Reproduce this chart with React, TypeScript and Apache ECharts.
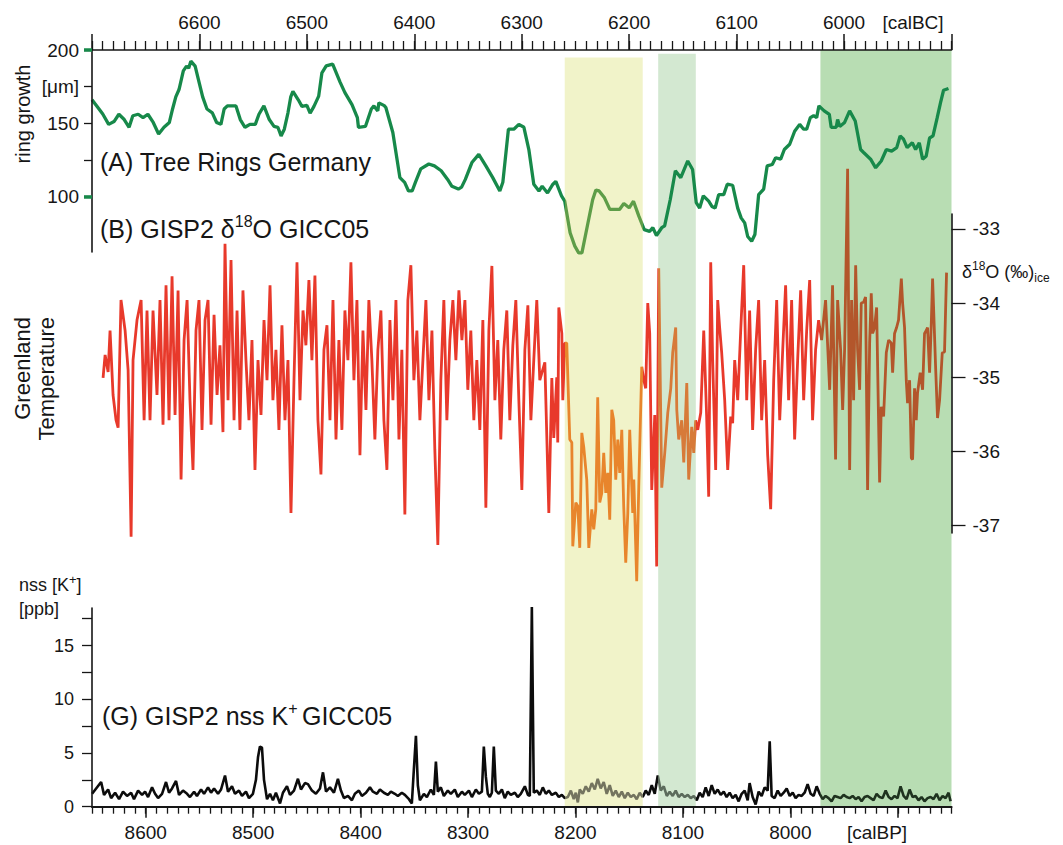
import React, { useEffect, useRef } from 'react';
import * as echarts from 'echarts';

// ---------- data (calBP year, value) ----------
const treeRing: [number, number][] = [
  [8650,166],[8644,160.2],[8640,156.3],[8634.5,149.2],[8629.5,151.1],[8625,156.1],[8620,152.5],[8615.5,147.2],[8612,155.1],[8607,156.1],
  [8602.5,153.8],[8598,156.1],[8593,150.5],[8588,142.6],[8583,147.2],[8578,150.5],[8575,159.7],[8572,168],[8569,173],[8565,185.7],
  [8562,189],[8560,187.6],[8558,192.4],[8554,189],[8551,179.9],[8547,168],[8543,159.7],[8538,157.1],[8534,150.5],[8530,149.2],
  [8527,159.7],[8524,161.8],[8516,161.8],[8512,152.5],[8507.6,147.2],[8503,149.2],[8498,149.2],[8494.6,156.1],[8490,161.8],[8485,152.5],
  [8480.6,147.8],[8477,147.2],[8474,141.3],[8471,145.9],[8467.6,157.1],[8465,168],[8463,171.8],[8458,166],[8454.6,161.5],[8450,162.2],
  [8447,156.8],[8443.4,161.5],[8439,168.5],[8436,184.4],[8432,189.1],[8426,190.4],[8419,177.9],[8414.6,170.9],[8408,162.7],[8403,153.8],
  [8402,147.2],[8395.5,147.8],[8390,159.7],[8387.6,161.8],[8384,158.4],[8383,163.9],[8378,162],[8376.5,160.7],[8370,143.6],[8363.4,112.8],
  [8359,109.6],[8355.4,103.7],[8352,103.7],[8349,109.6],[8344,118.8],[8336.5,122.1],[8331.3,120.8],[8325,117.5],[8319,111.6],[8315,106.9],
  [8309,105],[8306,106.3],[8302.5,111.6],[8296.4,123.1],[8290,128.7],[8283.4,120.8],[8277,112.8],[8270.4,103.7],[8267.6,109.6],[8262.4,145.9],
  [8257.4,145.9],[8252.7,149.2],[8248,147.2],[8243.4,132],[8238.8,108.3],[8234,103.7],[8231,106.9],[8226,102.3],[8221,108.3],[8218.3,110.2],
  [8213,100.4],[8210,96.7],[8205,75.2],[8200.6,66],[8197,61.4],[8194,61.4],[8189,79.6],[8184,97.7],[8181,104.3],[8178,103.7],
  [8173,99],[8168,91.1],[8159,91.1],[8155,95.1],[8150,92.2],[8146,96.7],[8141,86.5],[8136,77.3],[8131,76.1],[8128,78.6],
  [8124.6,73.3],[8119.7,78.6],[8117,79.9],[8111.8,97.7],[8107,117.5],[8102,112.8],[8095.5,124.2],[8091,118.4],[8087.6,95.7],[8084.4,92],
  [8081,100.4],[8076,96.7],[8073,93.1],[8070,92],[8066.7,101.2],[8062,101.2],[8058.7,108.3],[8053.7,107.6],[8049,92],[8045.8,85.3],
  [8042.5,81.9],[8039.7,72.6],[8036,69.3],[8033,73.9],[8029.5,101.2],[8024.8,105],[8021.6,120.8],[8016.8,121.8],[8013.7,126.4],[8009,125.4],
  [8005.6,132],[8000.6,135.6],[7996,144.5],[7991.3,149.2],[7987.6,145.9],[7984.8,145.9],[7981.4,153.8],[7978.3,155.1],[7975.5,153.8],[7973.4,161.8],
  [7968.5,158.4],[7963.7,156],[7962,147.2],[7957.3,147.2],[7956,152.5],[7954,147.8],[7949.5,150.5],[7944.8,158.4],[7939.6,151.5],[7934.6,132],
  [7931.8,130],[7925.3,125.4],[7920.6,119.5],[7915.4,124.2],[7910.6,132],[7905.7,130.9],[7901,133.3],[7897.8,141.3],[7894.6,139],[7891.3,133.3],
  [7886.5,136.6],[7883.4,132],[7880,136.6],[7876.9,125.4],[7873.6,127.4],[7870.4,139.9],[7867.2,141.3],[7863.3,153.8],[7860.2,164.1],[7857.4,172.5],
  [7852.8,173.7]
];

const d18o: [number, number][] = [
  [8639.7,-35.01],[8637.8,-34.70],[8635.0,-34.93],[8633.2,-34.37],[8630.4,-35.24],[8627.6,-35.58],[8625.7,-35.68],[8623.0,-33.96],[8619.2,-34.37],[8616.4,-34.90],
  [8613.6,-37.15],[8611.8,-34.77],[8608.1,-34.23],[8604.3,-33.96],[8601.5,-35.58],[8598.8,-34.10],[8596.0,-35.58],[8593.2,-34.10],[8589.5,-35.24],[8586.7,-33.96],
  [8583.9,-35.64],[8581.1,-33.76],[8578.3,-35.58],[8575.5,-33.64],[8572.7,-35.51],[8569.9,-33.83],[8567.1,-36.38],[8564.3,-34.50],[8561.5,-33.96],[8558.8,-35.31],
  [8556.0,-36.25],[8553.2,-34.37],[8550.4,-33.96],[8547.6,-35.71],[8544.8,-34.23],[8542.0,-33.96],[8539.2,-35.64],[8536.4,-34.16],[8533.6,-35.24],[8530.9,-34.57],
  [8528.1,-35.74],[8526.2,-33.20],[8523.4,-35.31],[8520.6,-33.42],[8517.8,-35.58],[8515.0,-34.10],[8512.3,-35.71],[8509.5,-33.83],[8506.7,-34.77],[8503.9,-35.58],
  [8501.1,-34.50],[8498.3,-36.25],[8495.5,-34.77],[8492.7,-35.51],[8489.9,-34.23],[8487.1,-35.04],[8484.3,-33.76],[8481.6,-35.31],[8478.8,-34.63],[8476.0,-35.71],
  [8473.2,-34.30],[8470.4,-35.58],[8467.6,-34.77],[8464.8,-36.83],[8462.0,-35.04],[8459.2,-33.45],[8456.4,-35.31],[8453.6,-34.10],[8450.9,-34.57],[8448.1,-33.69],
  [8445.3,-34.77],[8442.5,-33.63],[8439.7,-35.58],[8436.9,-36.31],[8434.1,-34.63],[8431.3,-34.30],[8428.5,-35.58],[8425.7,-33.96],[8422.9,-35.84],[8420.2,-34.50],
  [8417.4,-35.71],[8414.6,-34.10],[8411.8,-34.77],[8409.0,-33.45],[8406.2,-35.04],[8403.4,-33.96],[8400.6,-36.05],[8397.8,-34.37],[8395.0,-35.44],[8392.3,-33.96],
  [8389.5,-34.77],[8386.7,-35.84],[8383.9,-34.63],[8381.1,-34.10],[8378.3,-35.58],[8375.5,-36.25],[8372.7,-34.23],[8369.9,-35.31],[8367.1,-33.96],[8364.3,-35.84],
  [8361.6,-34.63],[8358.8,-36.85],[8356.0,-33.96],[8353.2,-33.49],[8350.4,-35.04],[8347.6,-34.37],[8344.8,-35.58],[8342.0,-34.77],[8339.2,-33.96],[8336.4,-35.31],
  [8333.6,-34.37],[8330.9,-35.98],[8328.1,-37.26],[8325.3,-35.04],[8322.5,-33.96],[8319.7,-35.58],[8316.9,-34.50],[8314.1,-33.96],[8311.3,-34.77],[8308.5,-33.83],
  [8305.7,-34.50],[8302.9,-33.96],[8300.2,-35.17],[8297.4,-34.37],[8294.6,-35.58],[8291.8,-34.77],[8289.0,-35.71],[8286.2,-34.23],[8283.4,-36.76],[8280.6,-34.37],
  [8277.8,-33.50],[8275.0,-35.31],[8272.3,-34.50],[8269.5,-35.84],[8266.7,-34.63],[8263.9,-34.10],[8261.1,-35.58],[8258.3,-34.57],[8255.5,-33.96],[8252.7,-35.31],
  [8249.9,-36.52],[8247.1,-34.63],[8244.3,-34.03],[8241.5,-35.58],[8238.8,-34.77],[8236.0,-33.96],[8233.2,-35.04],[8228.5,-34.80],[8224.8,-36.83],[8222.0,-35.01],
  [8220.2,-35.82],[8217.4,-35.00],[8216.5,-35.88],[8215.5,-34.06],[8212.7,-34.41],[8211.8,-35.31],[8209.9,-34.54],[8208.1,-34.54],[8205.3,-35.84],[8203.4,-35.88],
  [8202.5,-37.28],[8199.7,-36.69],[8197.8,-36.74],[8196.0,-37.30],[8194.1,-35.75],[8192.3,-35.94],[8189.5,-36.38],[8187.6,-37.30],[8184.8,-36.78],[8183.0,-37.05],
  [8181.1,-36.78],[8179.3,-35.27],[8177.4,-36.69],[8175.5,-36.56],[8173.7,-36.02],[8171.8,-36.56],[8169.9,-36.29],[8168.1,-36.92],[8166.2,-35.44],[8164.4,-35.58],
  [8162.5,-36.38],[8160.6,-35.84],[8158.8,-36.29],[8156.9,-35.71],[8155.1,-36.74],[8153.2,-37.50],[8151.3,-36.83],[8149.5,-35.71],[8146.7,-36.83],[8145.7,-36.38],
  [8143.0,-37.75],[8141.1,-36.48],[8138.3,-34.86],[8136.4,-35.04],[8134.6,-35.15],[8132.7,-34.00],[8130.9,-34.41],[8129.0,-36.52],[8126.2,-35.51],[8124.4,-37.55],
  [8122.5,-33.53],[8119.7,-36.49],[8116.9,-36.02],[8114.1,-35.48],[8111.3,-35.15],[8109.5,-34.67],[8106.7,-34.33],[8105.7,-35.44],[8103.9,-35.84],[8101.1,-35.58],
  [8099.2,-36.15],[8096.4,-35.08],[8094.6,-36.38],[8091.8,-35.67],[8089.9,-36.02],[8088.1,-35.58],[8086.2,-35.71],[8083.4,-35.48],[8080.6,-34.37],[8077.9,-35.53],
  [8076.0,-36.61],[8074.1,-33.45],[8072.3,-34.77],[8069.5,-36.25],[8067.6,-33.96],[8065.8,-34.33],[8063.9,-34.67],[8061.1,-35.31],[8058.3,-36.25],[8055.5,-35.53],
  [8053.7,-35.62],[8051.8,-34.77],[8049.0,-35.31],[8046.2,-34.37],[8043.4,-33.49],[8040.6,-35.31],[8037.9,-34.10],[8035.1,-35.71],[8032.3,-34.63],[8029.5,-33.96],
  [8026.7,-35.58],[8023.9,-34.77],[8021.1,-36.05],[8018.3,-36.78],[8015.5,-35.04],[8012.7,-33.96],[8009.9,-35.58],[8007.1,-34.63],[8004.4,-33.76],[8001.6,-35.31],
  [7998.8,-33.96],[7996.0,-35.84],[7993.2,-34.77],[7990.4,-33.83],[7987.6,-35.31],[7984.8,-34.37],[7982.0,-33.69],[7979.3,-35.58],[7976.5,-34.63],[7973.7,-34.23],
  [7970.9,-34.50],[7967.2,-33.96],[7963.4,-35.17],[7960.7,-33.76],[7957.9,-36.11],[7956.0,-33.96],[7953.2,-34.63],[7951.3,-35.44],[7949.5,-34.63],[7946.7,-32.19],
  [7944.8,-36.25],[7943.0,-33.96],[7941.1,-35.31],[7939.2,-33.49],[7937.4,-34.63],[7935.5,-35.17],[7934.0,-34.00],[7931.8,-33.99],[7930.0,-33.92],[7928.1,-36.52],
  [7926.2,-34.54],[7924.7,-33.87],[7923.4,-34.41],[7921.6,-34.33],[7919.7,-34.06],[7916.9,-36.42],[7915.4,-35.40],[7913.2,-35.53],[7910.7,-34.67],[7908.5,-34.50],
  [7906.0,-34.54],[7904.8,-34.94],[7903.0,-34.41],[7901.1,-34.33],[7899.3,-34.23],[7896.7,-33.67],[7895.5,-34.00],[7893.7,-34.33],[7892.1,-35.04],[7890.9,-35.35],
  [7889.0,-35.04],[7887.4,-36.09],[7886.2,-36.11],[7884.4,-35.15],[7882.8,-35.58],[7881.6,-35.21],[7879.1,-34.94],[7876.9,-35.17],[7875.1,-34.41],[7873.5,-34.37],
  [7872.3,-34.33],[7870.4,-34.94],[7868.8,-34.27],[7867.6,-33.67],[7864.8,-34.86],[7863.0,-35.55],[7861.1,-35.31],[7858.6,-34.67],[7856.5,-34.66],[7854.6,-33.59]
];

const nssK: [number, number][] = [
  [8649.9,1.2],[8641.5,2.3],[8638.8,1.1],[8635.0,1.6],[8632.2,0.8],[8628.5,1.3],[8624.8,0.7],[8621.1,1.4],[8617.4,1.0],[8613.6,1.3],
  [8610.9,0.7],[8607.1,1.5],[8603.4,1.1],[8600.6,1.4],[8597.8,0.9],[8594.1,1.8],[8591.3,1.2],[8588.5,0.8],[8584.8,1.2],[8581.1,2.3],
  [8578.3,1.3],[8575.5,1.7],[8571.8,2.4],[8569.0,1.1],[8565.3,1.5],[8561.5,1.2],[8558.8,0.9],[8555.0,1.4],[8552.3,1.0],[8548.5,1.6],
  [8545.7,1.2],[8542.0,1.8],[8539.2,1.3],[8536.4,1.7],[8532.7,1.2],[8529.9,1.6],[8526.2,2.9],[8523.4,1.4],[8519.7,1.9],[8516.9,1.2],
  [8513.2,1.5],[8510.4,1.0],[8506.7,1.4],[8503.9,0.8],[8500.2,1.2],[8497.4,2.5],[8495.5,4.6],[8493.7,5.6],[8491.8,5.5],[8489.9,2.5],
  [8487.1,0.7],[8484.3,1.2],[8481.6,0.6],[8478.8,1.3],[8475.0,0.3],[8472.3,1.3],[8468.5,1.9],[8465.7,1.1],[8462.0,1.5],[8458.3,2.6],
  [8455.5,1.6],[8451.8,2.2],[8449.0,2.1],[8445.3,1.5],[8441.6,1.2],[8437.8,1.7],[8435.0,3.2],[8432.2,1.4],[8428.5,1.8],[8424.8,1.3],
  [8421.1,2.6],[8418.3,1.5],[8415.5,0.8],[8411.8,1.0],[8408.1,0.6],[8405.3,1.2],[8401.6,1.5],[8398.8,1.0],[8395.0,1.3],[8391.3,1.8],
  [8388.5,1.4],[8384.8,1.2],[8382.0,1.6],[8378.3,1.3],[8374.6,1.1],[8371.8,1.4],[8368.1,1.2],[8365.3,1.0],[8361.6,1.3],[8358.8,1.1],
  [8355.0,0.7],[8352.3,0.3],[8350.4,3.5],[8348.5,6.6],[8346.7,2.0],[8344.8,0.6],[8341.1,1.2],[8338.3,0.9],[8334.6,1.6],[8331.8,1.1],
  [8329.9,4.2],[8328.1,1.4],[8325.3,1.8],[8322.5,1.0],[8318.8,1.5],[8316.0,1.2],[8312.3,1.6],[8309.5,0.9],[8305.7,1.4],[8303.0,1.1],
  [8299.2,1.5],[8296.4,0.9],[8292.7,1.6],[8289.9,1.2],[8287.1,1.4],[8285.3,5.6],[8283.4,2.8],[8281.6,1.2],[8279.7,0.9],[8277.8,1.3],
  [8276.0,5.6],[8274.1,1.5],[8271.3,1.2],[8268.5,1.6],[8265.8,0.8],[8263.0,1.4],[8260.2,1.1],[8256.4,1.3],[8253.7,0.9],[8250.9,1.2],
  [8247.1,1.9],[8244.3,1.1],[8242.5,1.0],[8240.6,18.6],[8238.8,1.3],[8236.0,1.5],[8233.2,1.1],[8230.4,1.8],[8227.6,1.2],[8224.8,1.5],
  [8222.0,1.1],[8218.3,1.3],[8215.5,0.9],[8212.7,1.1],[8209.9,0.8],[8207.1,0.9],[8204.3,1.5],[8201.6,0.7],[8199.7,1.3],[8197.8,0.4],
  [8196.0,1.6],[8193.2,1.2],[8190.4,1.9],[8187.6,1.4],[8184.8,2.2],[8182.0,1.6],[8179.3,2.6],[8176.5,1.7],[8173.7,2.3],[8170.9,1.2],
  [8168.1,2.0],[8165.3,1.0],[8162.5,1.5],[8159.7,0.9],[8156.9,1.4],[8154.1,0.8],[8151.3,1.3],[8148.5,0.9],[8145.7,1.1],[8143.0,0.7],
  [8140.2,1.3],[8137.4,0.9],[8134.6,1.5],[8131.8,1.1],[8129.0,2.0],[8126.2,1.2],[8123.4,2.9],[8120.6,1.5],[8117.8,1.9],[8115.0,1.0],
  [8112.3,1.4],[8109.5,1.0],[8106.7,1.5],[8103.9,0.9],[8101.1,1.2],[8098.3,0.9],[8095.5,1.1],[8092.7,0.8],[8089.9,1.0],[8087.1,0.6],
  [8084.4,1.3],[8081.6,0.9],[8078.8,1.8],[8076.0,1.0],[8073.2,2.0],[8070.4,1.2],[8067.6,1.6],[8064.8,1.1],[8062.0,1.4],[8059.3,0.9],
  [8056.5,1.3],[8053.7,0.8],[8050.9,1.1],[8048.1,0.5],[8045.3,1.2],[8042.5,1.5],[8039.7,0.6],[8037.9,2.2],[8035.1,0.9],[8032.3,0.2],
  [8029.5,1.4],[8026.7,1.0],[8023.9,1.8],[8021.1,1.5],[8019.2,6.1],[8017.4,1.0],[8014.6,0.8],[8011.8,1.5],[8009.0,1.0],[8006.2,1.3],
  [8003.4,1.7],[8000.6,1.0],[7997.8,1.3],[7995.1,0.8],[7992.3,1.1],[7989.5,1.0],[7986.7,1.3],[7983.9,2.1],[7981.1,1.2],[7978.3,1.0],
  [7975.5,1.9],[7972.7,1.2],[7969.9,0.7],[7967.2,1.0],[7964.4,0.8],[7961.6,0.5],[7958.8,1.0],[7956.0,0.9],[7953.2,0.8],[7950.4,1.1],
  [7947.6,0.9],[7944.8,0.8],[7942.0,1.0],[7939.2,0.7],[7936.5,0.9],[7933.7,0.5],[7930.9,0.9],[7928.1,1.0],[7925.3,0.8],[7922.5,0.6],
  [7919.7,1.2],[7916.9,0.9],[7914.1,0.8],[7911.3,1.5],[7908.5,0.9],[7905.8,0.7],[7903.0,1.0],[7900.2,0.8],[7897.4,1.9],[7894.6,1.0],
  [7891.8,0.7],[7889.0,1.6],[7886.2,0.9],[7883.4,1.0],[7880.7,0.6],[7877.9,0.9],[7875.1,0.5],[7872.3,0.8],[7869.5,0.9],[7866.7,0.7],
  [7863.9,1.2],[7861.1,0.6],[7858.3,1.0],[7855.5,0.8],[7852.7,1.3],[7850.9,0.5]
];

// shaded periods (calBP)
const bandStart = [8210, 8123, 7972];
const bandEnd = [8137.4, 8088, 7850];

// axis ticks / labels
const topMajorTicks = [5900, 6000, 6100, 6200, 6300, 6400, 6500, 6600, 6700];
const topLabels = [6000, 6100, 6200, 6300, 6400, 6500, 6600];
const bottomMajorTicks = [7900, 8000, 8100, 8200, 8300, 8400, 8500, 8600];
const bottomLabels = [8000, 8100, 8200, 8300, 8400, 8500, 8600];
const treeTicks = [100, 125, 150, 175, 200];
const treeLabels = [100, 150, 175, 200];
const treeGreenTicks = [100, 200];
const d18oTicks = [-37, -36, -35, -34, -33];
const kTicks = [0, 2.5, 5, 7.5, 10, 12.5, 15, 17.5];
const kLabels = [0, 5, 10, 15];

// ---------- styles ----------
const FONT = '"Liberation Sans", Arial, Helvetica, sans-serif';
const INK = '#161616';
const bandColors = ['#f1f3c9', '#d3e8d1', '#b8ddb3'];
const bandTop = [0.99, 0.995, 1];
const treeColor = '#17894a';
const treeBandColors = ['#5e9d48', treeColor, treeColor];
const redColor = '#e8392b';
const redBandColors = ['#e8852c', '#d77a39', '#b3562b'];
const kColor = '#0c0c0c';
const kBandColors = ['#74745f', '#5c6b5c', '#1f331f'];

const plain = (v: number) => String(v);

export default function App() {
  const ref = useRef<HTMLDivElement>(null);

  useEffect(() => {
    if (!ref.current) return;
    const chart = echarts.init(ref.current, null, { renderer: 'svg' });

    const L = 92;
    const R = 1063 - 951.5;
    const gb = { left: L, right: R, containLabel: false, outerBoundsMode: 'none' };
    const axisLineStyle = (w: number) => ({ show: true, onZero: false, lineStyle: { color: INK, width: w } });
    const labelStyle = (size: number, margin: number) => ({ fontSize: size, fontFamily: FONT, color: INK, margin, formatter: plain });
    const hiddenX = (gridIndex: number) => ({ type: 'value', gridIndex, min: 7850, max: 8650, inverse: true, show: false });
    const hiddenY = (gridIndex: number, min = 0, max = 1) => ({ type: 'value', gridIndex, min, max, show: false });

    const vm = (seriesIndex: number, base: string, colors: string[]) => ({
      type: 'piecewise', show: false, dimension: 0, seriesIndex,
      pieces: bandStart.map((s, i) => ({ gte: bandEnd[i], lte: s, color: colors[i] })),
      outOfRange: { color: base },
    });

    const rich = (size: number, supSize: number) => ({
      m: { fontSize: size, fontFamily: FONT, fill: INK, color: INK, lineHeight: size + 6 },
      s: { fontSize: supSize, fontFamily: FONT, fill: INK, color: INK, lineHeight: supSize, verticalAlign: 'top' },
      b: { fontSize: supSize, fontFamily: FONT, fill: INK, color: INK, lineHeight: supSize, verticalAlign: 'bottom' },
    });

    const txt = (x: number, y: number, text: string, size: number, extra: any = {}) => ({
      type: 'text', x, y, z: 20, silent: true, rotation: extra.rotation || 0,
      style: {
        text, font: `${size}px ${FONT}`, fill: INK,
        align: extra.align || 'left', textAlign: extra.align || 'left',
        verticalAlign: 'middle', textVerticalAlign: 'middle',
        ...(extra.rich ? { rich: extra.rich } : {}),
      },
    });

    const option: any = {
      animation: false,
      backgroundColor: '#ffffff',
      grid: [
        { ...gb, top: 50, height: 202 },     // 0 tree rings
        { ...gb, top: 214, height: 319 },    // 1 d18O
        { ...gb, top: 608, height: 198.7 },  // 2 nss K
        { ...gb, top: 50, height: 756.7 },   // 3 bands
        { ...gb, top: 608, height: 198.7 },  // 4 bottom major ticks
        { ...gb, top: 50, height: 202 },     // 5 top major ticks
      ],
      xAxis: [
        hiddenX(0),
        {
          type: 'value', gridIndex: 0, position: 'top', min: 5900, max: 6700, interval: 10, inverse: true, z: 6,
          axisLine: axisLineStyle(1.6),
          axisTick: { show: true, length: 9, lineStyle: { color: INK, width: 1.3 } },
          axisLabel: { show: false }, splitLine: { show: false },
        },
        hiddenX(1),
        {
          type: 'value', gridIndex: 2, position: 'bottom', min: 7850, max: 8650, interval: 10, inverse: true, z: 6,
          axisLine: axisLineStyle(2.2),
          axisTick: { show: true, length: 7, lineStyle: { color: INK, width: 1.3 } },
          axisLabel: { show: false }, splitLine: { show: false },
        },
        hiddenX(3),
        {
          type: 'value', gridIndex: 4, position: 'bottom', min: 7850, max: 8650, inverse: true, z: 6,
          axisLine: { show: false, onZero: false },
          axisTick: { show: true, length: 11, customValues: bottomMajorTicks, lineStyle: { color: INK, width: 1.5 } },
          axisLabel: { show: true, customValues: bottomLabels, ...labelStyle(19, 16) },
          splitLine: { show: false },
        },
        {
          type: 'value', gridIndex: 5, position: 'top', min: 5900, max: 6700, inverse: true, z: 6,
          axisLine: { show: false, onZero: false },
          axisTick: { show: true, length: 16, customValues: topMajorTicks, lineStyle: { color: INK, width: 1.5 } },
          axisLabel: { show: true, customValues: topLabels, ...labelStyle(19, 18) },
          splitLine: { show: false },
        },
      ],
      yAxis: [
        {
          type: 'value', gridIndex: 0, position: 'left', min: 62, max: 200, z: 6,
          axisLine: axisLineStyle(1.6),
          axisTick: { show: true, length: 8, customValues: treeTicks, lineStyle: { color: INK, width: 1.3 } },
          axisLabel: {
            show: true, customValues: treeLabels, ...labelStyle(19, 13),
            formatter: (v: number) => (v === 175 ? '[\u03bcm]' : String(v)),
          },
          splitLine: { show: false },
        },
        {
          type: 'value', gridIndex: 1, position: 'right', min: -37.1, max: -32.8, z: 6,
          axisLine: axisLineStyle(1.6),
          axisTick: { show: true, length: 14, customValues: d18oTicks, lineStyle: { color: INK, width: 1.3 } },
          axisLabel: { show: true, customValues: d18oTicks, ...labelStyle(19, 21) },
          splitLine: { show: false },
        },
        {
          type: 'value', gridIndex: 2, position: 'left', min: 0, max: 18.5, z: 6,
          axisLine: axisLineStyle(1.6),
          axisTick: { show: true, length: 10, customValues: kTicks, lineStyle: { color: INK, width: 1.3 } },
          axisLabel: { show: true, customValues: kLabels, ...labelStyle(18, 18) },
          splitLine: { show: false },
        },
        hiddenY(3),
        hiddenY(4),
        {
          type: 'value', gridIndex: 5, position: 'left', min: 62, max: 200, z: 7,
          axisLine: { show: false, onZero: false },
          axisTick: { show: true, length: 8, customValues: treeGreenTicks, lineStyle: { color: treeColor, width: 3.5 } },
          axisLabel: { show: false }, splitLine: { show: false },
        },
      ],
      visualMap: [
        vm(0, treeColor, treeBandColors),
        vm(1, redColor, redBandColors),
        vm(2, kColor, kBandColors),
      ],
      series: [
        {
          type: 'line', xAxisIndex: 0, yAxisIndex: 0, data: treeRing, symbol: 'none', showSymbol: false,
          clip: false, z: 3, silent: true, lineStyle: { width: 3.3 },
        },
        {
          type: 'line', xAxisIndex: 2, yAxisIndex: 1, data: d18o, symbol: 'none', showSymbol: false,
          clip: false, z: 3, silent: true, lineStyle: { width: 2.8 },
        },
        {
          type: 'line', xAxisIndex: 3, yAxisIndex: 2, data: nssK, symbol: 'none', showSymbol: false,
          clip: false, z: 3, silent: true, lineStyle: { width: 2.6 },
        },
        {
          type: 'line', xAxisIndex: 4, yAxisIndex: 3, data: [[7850, 0]], symbol: 'none', showSymbol: false,
          z: 1, silent: true, lineStyle: { width: 0, opacity: 0 },
          markArea: {
            silent: true,
            data: bandStart.map((s, i) => [
              { xAxis: s, yAxis: 0, itemStyle: { color: bandColors[i], opacity: 1 } },
              { xAxis: bandEnd[i], yAxis: bandTop[i], itemStyle: { color: bandColors[i], opacity: 1 } },
            ]),
          },
        },
      ],
      graphic: {
        elements: [
          txt(913, 22, '[calBC]', 19, { align: 'center' }),
          txt(877, 832, '[calBP]', 19, { align: 'center' }),
          txt(23, 114, 'ring growth', 20, { align: 'center', rotation: Math.PI / 2 }),
          txt(22, 317, 'Greenland', 22, { align: 'right', rotation: Math.PI / 2 }),
          txt(46, 317, 'Temperature', 22, { align: 'right', rotation: Math.PI / 2 }),
          txt(100, 162, '(A) Tree Rings Germany', 25),
          txt(100, 229, '{m|(B) GISP2 \u03b4}{s|18}{m|O GICC05}', 25, { rich: rich(25, 16) }),
          txt(102, 716, '{m|(G) GISP2 nss K}{s|+ }{m|GICC05}', 25, { rich: rich(25, 16) }),
          txt(19, 585, '{m|nss [K}{s|+}{m|]}', 18, { rich: rich(18, 13) }),
          txt(19, 609, '[ppb]', 18),
          txt(962, 272, '{m|\u03b4}{s|18}{m|O (\u2030)}{b|ice}', 18, { rich: rich(18, 12) }),
        ],
      },
    };

    chart.setOption(option);
    return () => chart.dispose();
  }, []);

  return (
    <div
      ref={ref}
      style={{ position: 'absolute', left: 0, top: 0, width: 1063, height: 845, background: '#fff' }}
    />
  );
}
